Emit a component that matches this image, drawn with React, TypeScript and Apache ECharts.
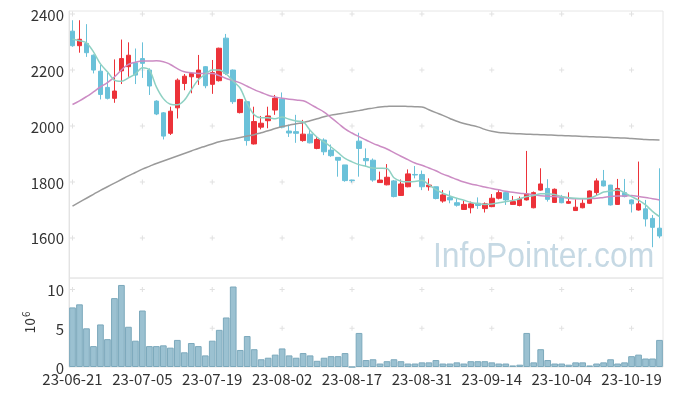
import { useEffect, useRef } from 'react';
import * as echarts from 'echarts';

const dates = [
  '23-06-21','23-06-22','23-06-23','23-06-26','23-06-27','23-06-28','23-06-29','23-06-30',
  '23-07-03','23-07-04','23-07-05','23-07-06','23-07-07','23-07-10','23-07-11','23-07-12','23-07-13','23-07-14',
  '23-07-17','23-07-18','23-07-19','23-07-20','23-07-21','23-07-24','23-07-25','23-07-26','23-07-27','23-07-28','23-07-31',
  '23-08-01','23-08-02','23-08-03','23-08-04','23-08-07','23-08-08','23-08-09','23-08-10','23-08-11',
  '23-08-14','23-08-16','23-08-17','23-08-18','23-08-21','23-08-22','23-08-23','23-08-24','23-08-25',
  '23-08-28','23-08-29','23-08-30','23-08-31','23-09-01','23-09-04','23-09-05','23-09-06','23-09-07','23-09-08',
  '23-09-11','23-09-12','23-09-13','23-09-14','23-09-15','23-09-18','23-09-19','23-09-20','23-09-21','23-09-22',
  '23-09-25','23-09-26','23-09-27','23-10-04','23-10-05','23-10-06','23-10-10','23-10-11','23-10-12','23-10-13',
  '23-10-16','23-10-17','23-10-18','23-10-19','23-10-20','23-10-23','23-10-24','23-10-25'
];

const opens = [2339,2287,2295,2253,2196,2138,2099,2197,2212,2226,2241,2200,2089,2047,1974,2065,2152,2176,2173,2212,
  2149,2162,2314,2200,2048,2087,1936,1996,2019,2057,2097,1982,1980,1948,1971,1920,1950,1914,1888,1861,
  1807,1946,1884,1878,1798,1790,1804,1752,1783,1827,1827,1783,1783,1732,1745,1726,1702,1708,1724,1705,
  1712,1742,1762,1720,1716,1736,1708,1771,1777,1727,1745,1724,1698,1708,1724,1762,1804,1789,1720,1762,
  1736,1700,1704,1670,1635];
const closes = [2287,2310,2262,2200,2113,2099,2125,2241,2253,2182,2224,2143,2043,1964,2053,2164,2178,2188,2200,2144,
  2191,2278,2188,2087,2095,1948,2016,2010,2036,2099,1996,1975,1974,1971,1940,1952,1908,1894,1878,1805,
  1805,1920,1876,1807,1807,1817,1748,1793,1829,1825,1783,1789,1741,1754,1736,1717,1720,1722,1716,1722,
  1742,1762,1736,1730,1739,1757,1762,1793,1738,1774,1726,1730,1710,1724,1768,1804,1786,1718,1777,1748,
  1722,1722,1668,1638,1607];
const lows = [2283,2262,2247,2188,2095,2095,2083,2150,2176,2150,2172,2111,2039,1952,1968,2027,2128,2117,2147,2135,
  2115,2159,2182,2079,2045,1930,1934,1988,1992,2040,1992,1961,1940,1944,1938,1917,1896,1890,1819,1801,
  1798,1819,1855,1801,1797,1788,1745,1750,1781,1813,1771,1769,1738,1726,1724,1712,1700,1688,1704,1691,
  1710,1738,1718,1718,1713,1734,1706,1769,1730,1725,1724,1722,1697,1706,1722,1750,1784,1716,1718,1745,
  1691,1698,1641,1567,1599];
const highs = [2378,2378,2364,2256,2218,2190,2238,2309,2299,2277,2299,2206,2092,2050,2069,2170,2186,2190,2254,2214,
  2236,2280,2329,2202,2097,2090,2069,2036,2069,2111,2120,2005,2040,2022,1988,1962,1956,1934,1888,1861,
  1808,1976,1920,1884,1837,1864,1807,1809,1845,1857,1841,1813,1783,1771,1769,1742,1733,1730,1745,1727,
  1757,1771,1766,1750,1748,1911,1766,1849,1810,1777,1754,1763,1738,1738,1770,1813,1843,1790,1811,1811,
  1738,1873,1736,1682,1849];

// volume in millions (10^6)
const volumes = [7.7,8.1,5.0,2.7,5.5,3.6,8.9,10.6,5.2,3.4,7.3,2.7,2.7,2.8,2.5,3.5,1.9,3.1,2.7,1.5,
  3.4,4.8,6.4,10.4,2.2,4.0,2.3,1.0,1.2,1.6,2.4,1.5,1.2,1.8,1.5,0.8,1.2,1.4,1.4,1.8,
  0,4.4,0.9,1.0,0.45,0.75,1.0,0.75,0.45,0.45,0.6,0.6,0.9,0.45,0.45,0.6,0.45,0.75,0.75,0.75,
  0.6,0.45,0.45,0.2,0.3,4.4,0.6,2.3,0.9,0.45,0.45,0.3,0.6,0.6,0.2,0.45,0.6,1.0,0.45,0.6,
  1.4,1.6,1.1,1.1,3.5];

const ma5 = [2310,2305,2297,2265,2222,2194,2164,2160,2172,2186,2208,2200,2140,2098,2078,2076,2092,2130,2165,2185,
  2200,2200,2186,2160,2135,2080,2040,2030,2030,2026,2032,2024,2018,2015,1985,1960,1943,1925,1905,1884,
  1872,1862,1856,1850,1849,1848,1815,1803,1801,1802,1806,1790,1773,1760,1750,1742,1735,1727,1723,1720,
  1721,1726,1730,1734,1740,1748,1752,1758,1758,1755,1748,1744,1742,1741,1742,1752,1764,1768,1771,1762,
  1748,1735,1718,1695,1676];
const ma20 = [2077,2090,2105,2122,2140,2155,2175,2200,2220,2228,2232,2232,2233,2230,2220,2205,2194,2190,2188,2188,
  2188,2180,2170,2162,2154,2142,2130,2120,2110,2104,2099,2096,2093,2090,2078,2064,2050,2030,2010,1990,
  1975,1962,1950,1938,1928,1918,1905,1892,1880,1868,1860,1850,1840,1828,1819,1809,1800,1793,1788,1782,
  1777,1772,1767,1763,1760,1758,1754,1751,1749,1748,1746,1742,1740,1740,1741,1742,1745,1748,1750,1750,
  1752,1748,1745,1740,1736];
const ma120 = [1714,1728,1742,1756,1770,1783,1796,1809,1822,1834,1846,1856,1866,1875,1884,1893,1902,1911,1920,1928,
  1936,1944,1949,1954,1959,1964,1969,1976,1983,1991,1998,2003,2008,2012,2019,2026,2033,2039,2043,2047,
  2051,2055,2060,2064,2068,2070,2071,2071,2070,2069,2068,2058,2048,2038,2027,2017,2009,2003,1997,1988,
  1981,1977,1975,1973,1972,1971,1970,1969,1968,1967,1966,1965,1964,1963,1962,1961,1960,1959,1958,1957,
  1955,1954,1952,1951,1950];

const priceTicks = [1600, 1800, 2000, 2200, 2400];
const volumeTicks = [0, 5, 10];
const markIdx = [0, 10, 20, 30, 40, 50, 60, 70, 80];

const FONT = "'Noto Sans CJK KR', 'Noto Sans', sans-serif";
const PLUS = 'path://M2,0H3V2H5V3H3V5H2V3H0V2H2Z';

export default function App() {
  const ref = useRef<HTMLDivElement>(null);
  useEffect(() => {
    const chart = echarts.init(ref.current!, null, { renderer: 'svg' });
    const candleData = opens.map((o, i) => [o, closes[i], lows[i], highs[i]]);
    const pricePlus: number[][] = [];
    markIdx.forEach((x) => priceTicks.forEach((y) => pricePlus.push([x, y])));
    const volPlus: number[][] = [];
    markIdx.forEach((x) => volumeTicks.filter((v) => v > 0).forEach((y) => volPlus.push([x, y])));
    const plain = (v: number) => String(v);

    const option: any = {
      animation: false,
      textStyle: { fontFamily: FONT },
      grid: [
        { left: 69, top: 11, width: 594, height: 267, show: true, borderColor: '#e6e6e6', borderWidth: 1 },
        { left: 69, top: 278, width: 594, height: 89, show: true, borderColor: '#e6e6e6', borderWidth: 1 },
      ],
      xAxis: [
        {
          type: 'category', gridIndex: 0, data: dates, boundaryGap: true,
          axisLine: { show: false }, axisTick: { show: false }, axisLabel: { show: false }, splitLine: { show: false },
        },
        {
          type: 'category', gridIndex: 1, data: dates, boundaryGap: true,
          axisLine: { show: false }, axisTick: { show: false }, splitLine: { show: false },
          axisLabel: { interval: 9, color: '#333', fontSize: 15, lineHeight: 13, margin: 5, fontFamily: FONT },
        },
      ],
      yAxis: [
        {
          type: 'value', gridIndex: 0, min: 1457, max: 2411, scale: true,
          axisLine: { show: true, lineStyle: { color: '#e3e3e3' } }, axisTick: { show: false },
          splitLine: { show: false },
          axisLabel: { customValues: priceTicks, formatter: plain, color: '#333', fontSize: 15, margin: 5, fontFamily: FONT },
        },
        {
          type: 'value', gridIndex: 1, min: 0, max: 11.5,
          axisLine: { show: true, lineStyle: { color: '#e3e3e3' } }, axisTick: { show: false },
          splitLine: { show: false },
          axisLabel: { customValues: volumeTicks, formatter: plain, color: '#333', fontSize: 15, margin: 5, fontFamily: FONT },
          name: '{a|10}{b|6}', nameLocation: 'middle', nameGap: 30, nameRotate: 90,
          nameTextStyle: {
            color: '#333', fontFamily: FONT,
            rich: {
              a: { fontSize: 14, color: '#333', fontFamily: FONT },
              b: { fontSize: 10, color: '#333', fontFamily: FONT, padding: [0, 0, 8, 1] },
            },
          },
        },
      ],
      graphic: [
        {
          type: 'text', left: 433, top: 237, z: 0, silent: true, scaleX: 0.91,
          style: { text: 'InfoPointer.com', fill: '#c6d9e4', font: "35px 'Liberation Sans', Arial, sans-serif" },
        },
      ],
      series: [
        {
          type: 'scatter', xAxisIndex: 0, yAxisIndex: 0, data: pricePlus, symbol: PLUS, symbolSize: 5,
          itemStyle: { color: '#d9d9d9' }, silent: true, z: 1,
        },
        {
          type: 'scatter', xAxisIndex: 1, yAxisIndex: 1, data: volPlus, symbol: PLUS, symbolSize: 5,
          itemStyle: { color: '#d9d9d9' }, silent: true, z: 1,
        },
        {
          type: 'candlestick', xAxisIndex: 0, yAxisIndex: 0, data: candleData, barWidth: 5, z: 3,
          itemStyle: {
            color: '#ec3239', color0: '#6ac1d9', borderColor: '#ec3239', borderColor0: '#6ac1d9', borderWidth: 1,
          },
        },
        {
          type: 'line', name: 'MA120', xAxisIndex: 0, yAxisIndex: 0, data: ma120, showSymbol: false, smooth: true,
          lineStyle: { color: '#9a9a9a', width: 1.5 }, z: 4, silent: true,
        },
        {
          type: 'line', name: 'MA20', xAxisIndex: 0, yAxisIndex: 0, data: ma20, showSymbol: false, smooth: true,
          lineStyle: { color: '#cc8cc4', width: 1.5 }, z: 4, silent: true,
        },
        {
          type: 'line', name: 'MA5', xAxisIndex: 0, yAxisIndex: 0, data: ma5, showSymbol: false, smooth: 0.3,
          lineStyle: { color: '#8fd1c3', width: 1.5 }, z: 4, silent: true,
        },
        {
          type: 'bar', xAxisIndex: 1, yAxisIndex: 1, data: volumes, barCategoryGap: '4%', z: 3,
          itemStyle: { color: '#9bc1d1', borderColor: '#7ca9bc', borderWidth: 1 },
        },
      ],
    };
    chart.setOption(option);
    return () => chart.dispose();
  }, []);
  return <div ref={ref} style={{ position: 'fixed', left: 0, top: 0, width: 673, height: 396 }} />;
}
